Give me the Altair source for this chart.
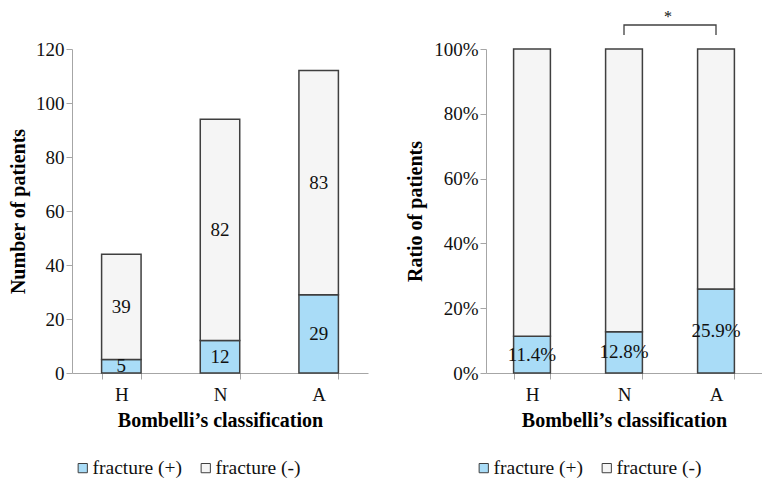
import altair as alt
import pandas as pd

# ---- data ----
categories = ["H", "N", "A"]
series = ["fracture (+)", "fracture (-)"]
fracture_pos = [5, 12, 29]
fracture_neg = [39, 82, 83]
ratio_labels = ["11.4%", "12.8%", "25.9%"]
count_ticks = [0, 20, 40, 60, 80, 100, 120]
ratio_ticks = [0, 0.2, 0.4, 0.6, 0.8, 1.0]
bracket_cats = ["N", "N", "A", "A"]
bracket_y = [1.043, 1.074, 1.074, 1.043]
sig_text = "*"

colors = ["#a9dcf7", "#f5f5f5"]
FONT = "Liberation Serif"
FS = 19
TFS = 20
TXT = "#111111"
STROKE = "#3f3f3f"

rows = []
for c, p, n, lab in zip(categories, fracture_pos, fracture_neg, ratio_labels):
    rows.append({"cat": c, "series": series[0], "value": p, "order": 0, "label": lab})
    rows.append({"cat": c, "series": series[1], "value": n, "order": 1, "label": ""})
df = pd.DataFrame(rows)

bracket_df = pd.DataFrame({"cat": bracket_cats, "y": bracket_y, "o": [0, 1, 2, 3]})
star_df = pd.DataFrame({"cat": ["N"], "y": [1.084], "t": [sig_text]})


def x_enc():
    return alt.X(
        "cat:N",
        sort=categories,
        scale=alt.Scale(domain=categories, paddingInner=0.6, paddingOuter=0.3),
        axis=alt.Axis(title="Bombelli’s classification", labelAngle=0,
                      tickBand="extent", tickSize=6, labelPadding=6, titlePadding=6),
    )


def color_enc(lx):
    return alt.Color(
        "series:N",
        scale=alt.Scale(domain=series, range=colors),
        legend=alt.Legend(
            orient="none", legendX=lx, legendY=409, direction="horizontal",
            title=None, symbolType="square", symbolSize=85,
            symbolStrokeColor=STROKE, symbolStrokeWidth=1,
            labelFont=FONT, labelFontSize=19.5, labelColor=TXT,
            columnPadding=14, labelOffset=0, padding=0,
        ),
    )


# ---- left panel: counts ----
y_left_scale = alt.Scale(domain=[0, 120])
y_left_axis = alt.Axis(values=count_ticks, title="Number of patients",
                       tickSize=6, labelPadding=2, titlePadding=7)

base = alt.Chart(df)
left_bars = base.mark_bar(stroke=STROKE, strokeWidth=1.5).encode(
    x=x_enc(),
    y=alt.Y("value:Q", stack="zero", scale=y_left_scale, axis=y_left_axis),
    color=color_enc(1),
    order=alt.Order("order:Q"),
)
left_text = base.transform_stack(
    stack="value", groupby=["cat"], as_=["y0", "y1"],
    sort=[alt.SortField("order", "ascending")],
).transform_calculate(mid="(datum.y0 + datum.y1) / 2").mark_text(
    font=FONT, fontSize=FS, color=TXT, baseline="middle"
).encode(
    x=x_enc(),
    y=alt.Y("mid:Q", scale=y_left_scale, axis=y_left_axis),
    text="value:Q",
)
left = alt.layer(left_bars, left_text).properties(width=296, height=324)

# ---- right panel: ratios ----
y_right_scale = alt.Scale(domain=[0, 1])
y_right_axis = alt.Axis(values=ratio_ticks, format=".0%", title="Ratio of patients",
                        tickSize=6, labelPadding=2, titlePadding=8)

right_bars = base.mark_bar(stroke=STROKE, strokeWidth=1.5).encode(
    x=x_enc(),
    y=alt.Y("value:Q", stack="normalize", scale=y_right_scale, axis=y_right_axis),
    color=color_enc(-12),
    order=alt.Order("order:Q"),
)
right_text = base.transform_joinaggregate(
    total="sum(value)", groupby=["cat"]
).transform_filter(alt.datum.order == 0).transform_calculate(
    mid="datum.value / datum.total / 2"
).mark_text(font=FONT, fontSize=FS, color=TXT, baseline="middle").encode(
    x=x_enc(),
    y=alt.Y("mid:Q", scale=y_right_scale, axis=y_right_axis),
    text="label:N",
)
bracket = alt.Chart(bracket_df).mark_line(color="#404040", strokeWidth=1.3).encode(
    x=x_enc(),
    y=alt.Y("y:Q", scale=y_right_scale, axis=y_right_axis),
    order="o:Q",
)
star = alt.Chart(star_df).mark_text(
    font=FONT, fontSize=16, color=TXT, baseline="alphabetic", dx=44
).encode(
    x=x_enc(),
    y=alt.Y("y:Q", scale=y_right_scale, axis=y_right_axis),
    text="t:N",
)
right = alt.layer(right_bars, right_text, bracket, star).properties(width=276, height=324)

chart = alt.hconcat(left, right, spacing=37).resolve_scale(
    color="independent", y="independent"
).resolve_legend(color="independent").properties(
    padding=0, background="white"
).configure_view(stroke=None).configure_axis(
    grid=False,
    domainColor="#a6a6a6",
    tickColor="#a6a6a6",
    labelFont=FONT,
    labelFontSize=FS,
    labelColor=TXT,
    titleFont=FONT,
    titleFontSize=TFS,
    titleFontWeight="bold",
    titleColor="#000000",
)

chart.save("out.html", embed_options={"renderer": "svg", "actions": False})
